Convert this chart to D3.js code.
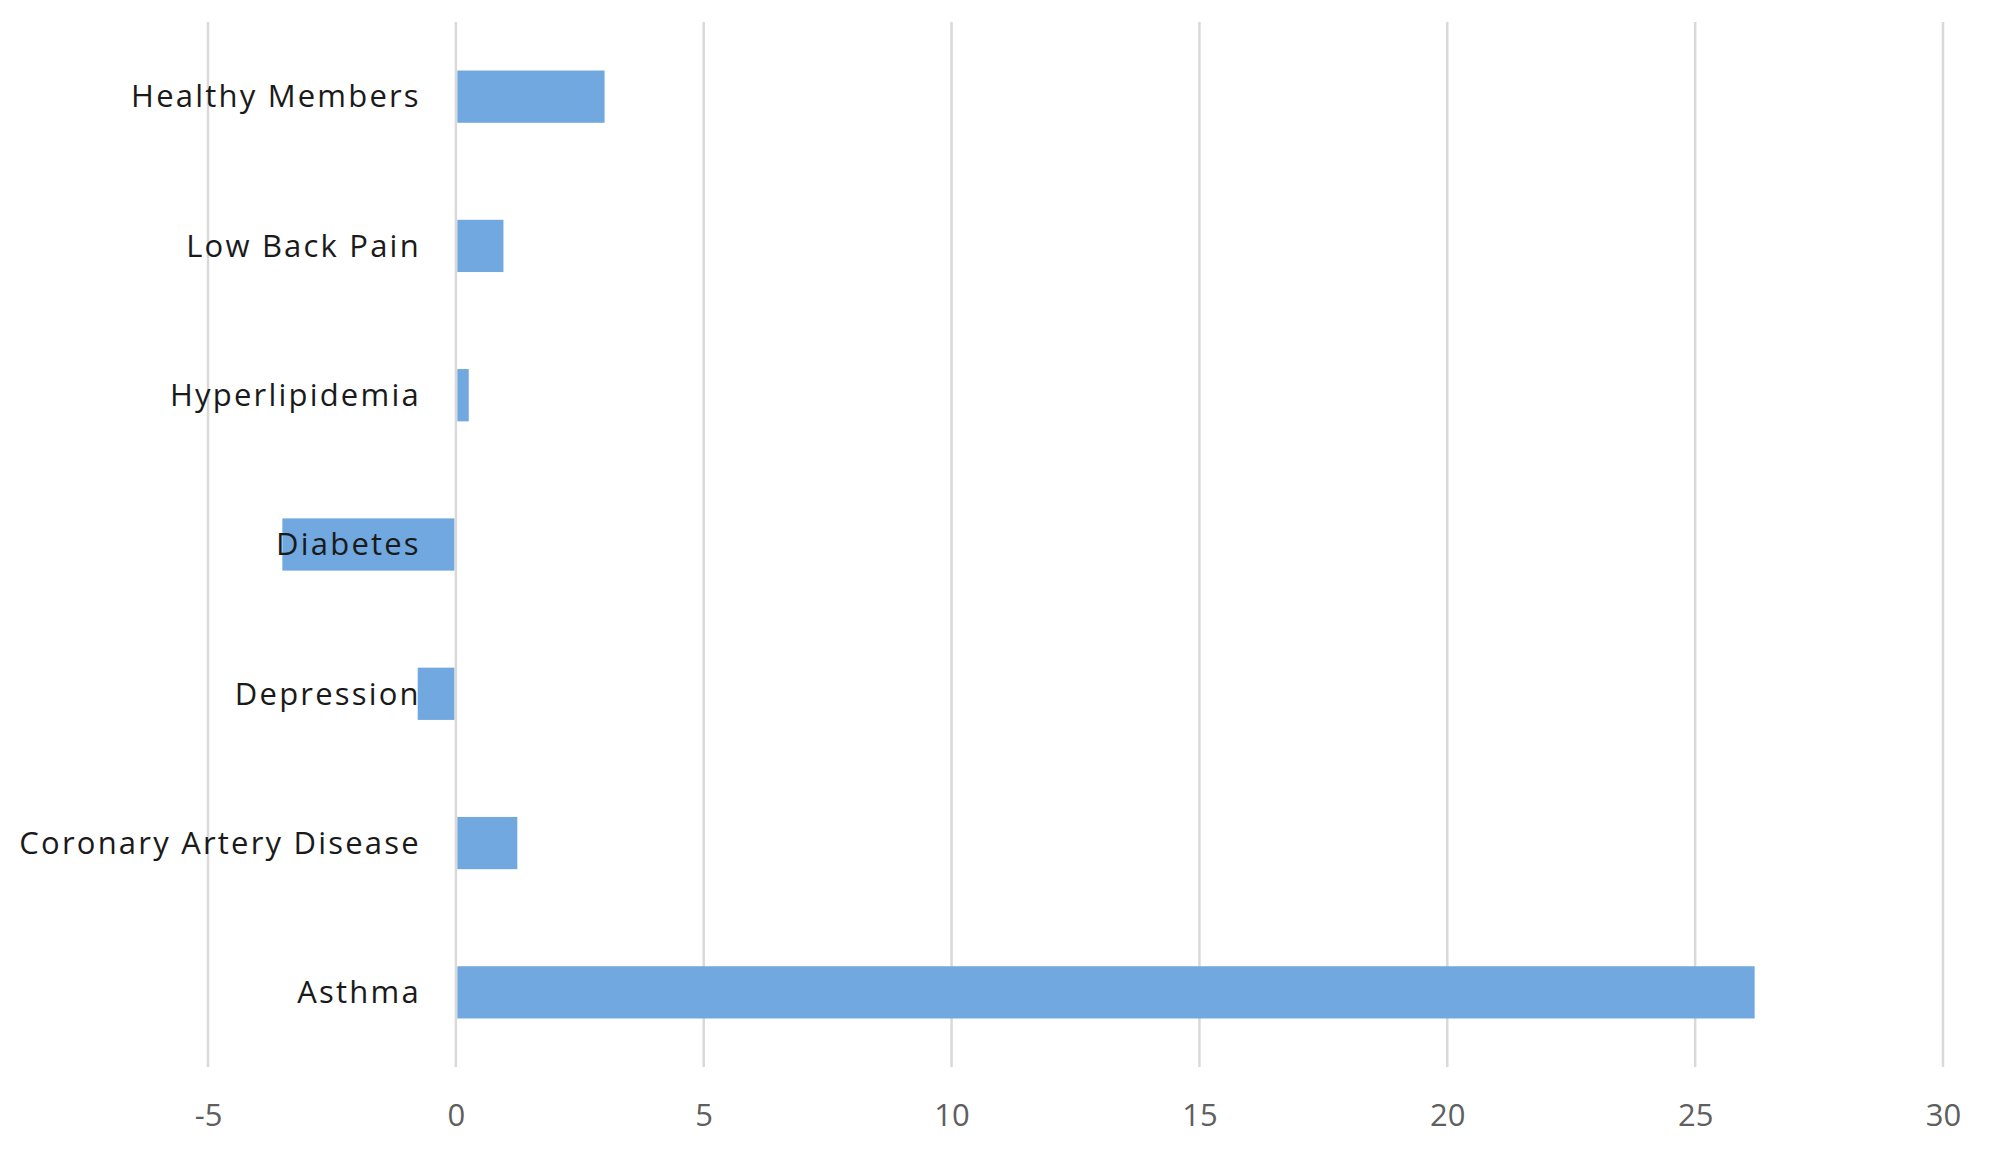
<!DOCTYPE html>
<html>
<head>
<meta charset="utf-8">
<script src="https://cdn.jsdelivr.net/npm/d3@7"></script>
<style>
  body { margin: 0; background: #fff; }
</style>
</head>
<body>
<div id="chart"></div>
<script>
const categories = ["Healthy Members", "Low Back Pain", "Hyperlipidemia", "Diabetes", "Depression", "Coronary Artery Disease", "Asthma"]
const values = [3.0, 0.96, 0.26, -3.5, -0.77, 1.24, 26.2]
const ticks = [-5, 0, 5, 10, 15, 20, 25, 30]

const width = 2000, height = 1161
const margin = { top: 22, right: 57, bottom: 94, left: 208 }

const svg = d3.select("#chart")
  .append("svg")
  .attr("width", width)
  .attr("height", height)

const x = d3.scaleLinear().domain([-5, 30]).range([margin.left, width - margin.right])
const y = d3.scaleBand().domain(categories).range([margin.top, height - margin.bottom]).paddingInner(0.65).paddingOuter(0.325)

// grid lines
svg.append("g")
  .selectAll("line")
  .data(ticks)
  .enter()
  .append("line")
  .attr("x1", d => x(d))
  .attr("x2", d => x(d))
  .attr("y1", margin.top)
  .attr("y2", height - margin.bottom)
  .attr("stroke", "#d9d9d9")
  .attr("stroke-width", 2.5)

// x-Axis labels
const xAxis = d3.axisBottom(x).tickValues(ticks).tickSize(0).tickPadding(0).tickFormat(d => String(d))
svg.append("g")
  .attr("transform", `translate(0, ${height - margin.bottom})`)
  .call(xAxis)
  .call(g => g.select(".domain").remove())
  .selectAll("text")
  .attr("y", 48)
  .attr("dy", "0.35em")
  .style("font-family", "Open Sans")
  .style("font-size", "31px")
  .attr("fill", "#5f5f5f")

// bars
svg.append("g")
  .selectAll("rect")
  .data(values)
  .enter()
  .append("rect")
  .attr("x", d => Math.min(x(0), x(d)) + (d > 0 ? 1.5 : 0))
  .attr("y", (d, i) => y(categories[i]))
  .attr("width", d => Math.abs(x(d) - x(0)) - 1.5)
  .attr("height", y.bandwidth())
  .attr("fill", "#70a8df")

// category labels
svg.append("g")
  .selectAll("text")
  .data(categories)
  .enter()
  .append("text")
  .attr("x", x(0) - 35)
  .attr("y", d => y(d) + y.bandwidth() / 2)
  .attr("dy", "0.35em")
  .attr("text-anchor", "end")
  .style("font-family", "Open Sans")
  .style("font-size", "31px")
  .style("letter-spacing", "2.2px")
  .attr("fill", "#1a1a1a")
  .text(d => d)
</script>
</body>
</html>
